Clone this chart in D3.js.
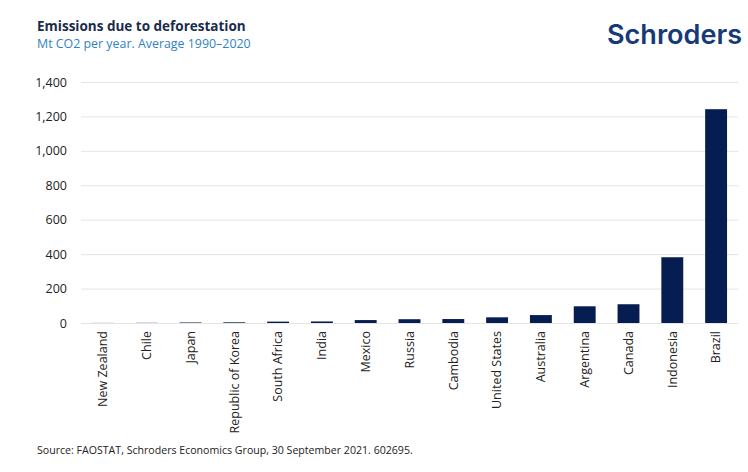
<!DOCTYPE html>
<html>
<head>
<meta charset="utf-8">
<script src="https://cdn.jsdelivr.net/npm/d3@7"></script>
<style>
  body { margin: 0; background: #fff; }
  svg { display: block; font-family: "Open Sans", "Noto Sans", sans-serif; }
</style>
</head>
<body>
<div id="chart"></div>
<script>
// Mt CO2 per year, average 1990-2020
const countries = ["New Zealand", "Chile", "Japan", "Republic of Korea", "South Africa", "India",
    "Mexico", "Russia", "Cambodia", "United States", "Australia", "Argentina", "Canada", "Indonesia", "Brazil"]
const emissions = [0.5, 1, 3, 4, 8, 9, 17, 22, 23, 33, 46, 97, 109, 382, 1242]
const yTicks = [0, 200, 400, 600, 800, 1000, 1200, 1400]

const width = 748, height = 472
const margin = { top: 82, right: 10, bottom: 149, left: 81 }

const svg = d3.select("#chart").append("svg")
    .attr("width", width).attr("height", height)

const x = d3.scaleBand()
    .domain(countries)
    .range([margin.left, width - margin.right])
    .paddingInner(0.5)
    .paddingOuter(0.25)

const y = d3.scaleLinear()
    .domain([0, 1400])
    .range([height - margin.bottom, margin.top])

// gridlines
svg.append("g")
    .attr("transform", `translate(${margin.left},0)`)
    .call(d3.axisLeft(y).tickValues(yTicks).tickSize(-(width - margin.right - margin.left)).tickFormat(""))
    .call(g => g.select(".domain").remove())
    .call(g => g.selectAll("line").attr("stroke", "#e4e4e4"))

// y labels
svg.append("g")
    .attr("transform", `translate(${margin.left},0)`)
    .call(d3.axisLeft(y).tickValues(yTicks).tickSize(0).tickPadding(14).tickFormat(d3.format(",")))
    .call(g => g.select(".domain").remove())
    .call(g => g.selectAll("text").attr("font-size", 12.5).attr("fill", "#222")
        .style("font-family", "'Open Sans', 'Noto Sans', sans-serif"))

// bars
svg.append("g").selectAll("rect")
    .data(countries)
    .join("rect")
    .attr("x", d => x(d))
    .attr("width", x.bandwidth())
    .attr("y", (d, i) => y(emissions[i]))
    .attr("height", (d, i) => y(0) - y(emissions[i]))
    .attr("fill", "#061d52")

// x labels
svg.append("g")
    .attr("transform", `translate(0,${y(0)})`)
    .call(d3.axisBottom(x).tickSize(0).tickPadding(8))
    .call(g => g.select(".domain").remove())
    .call(g => g.selectAll("text")
        .attr("font-size", 12.5).attr("fill", "#222")
        .style("font-family", "'Open Sans', 'Noto Sans', sans-serif")
        .attr("text-anchor", "end")
        .attr("transform", "rotate(-90)")
        .attr("x", -8).attr("y", 0).attr("dy", "0.35em"))

// titles
svg.append("text")
    .attr("x", 37).attr("y", 31)
    .attr("font-size", 13.5).attr("font-weight", 700).attr("fill", "#1a2b4c")
    .text("Emissions due to deforestation")

svg.append("text")
    .attr("x", 37).attr("y", 48)
    .attr("font-size", 12.4).attr("fill", "#2f82c4")
    .text("Mt CO2 per year. Average 1990\u20132020")

svg.append("text")
    .attr("x", 37).attr("y", 454)
    .attr("font-size", 10.6).attr("fill", "#222")
    .text("Source: FAOSTAT, Schroders Economics Group, 30 September 2021. 602695.")

// logo
svg.append("text")
    .attr("x", 607).attr("y", 44)
    .attr("font-size", 27).attr("font-weight", 600).attr("fill", "#163a78")
    .attr("textLength", 135).attr("lengthAdjust", "spacingAndGlyphs")
    .style("font-family", "Inter, 'Open Sans', sans-serif")
    .text("Schroders")
</script>
</body>
</html>
